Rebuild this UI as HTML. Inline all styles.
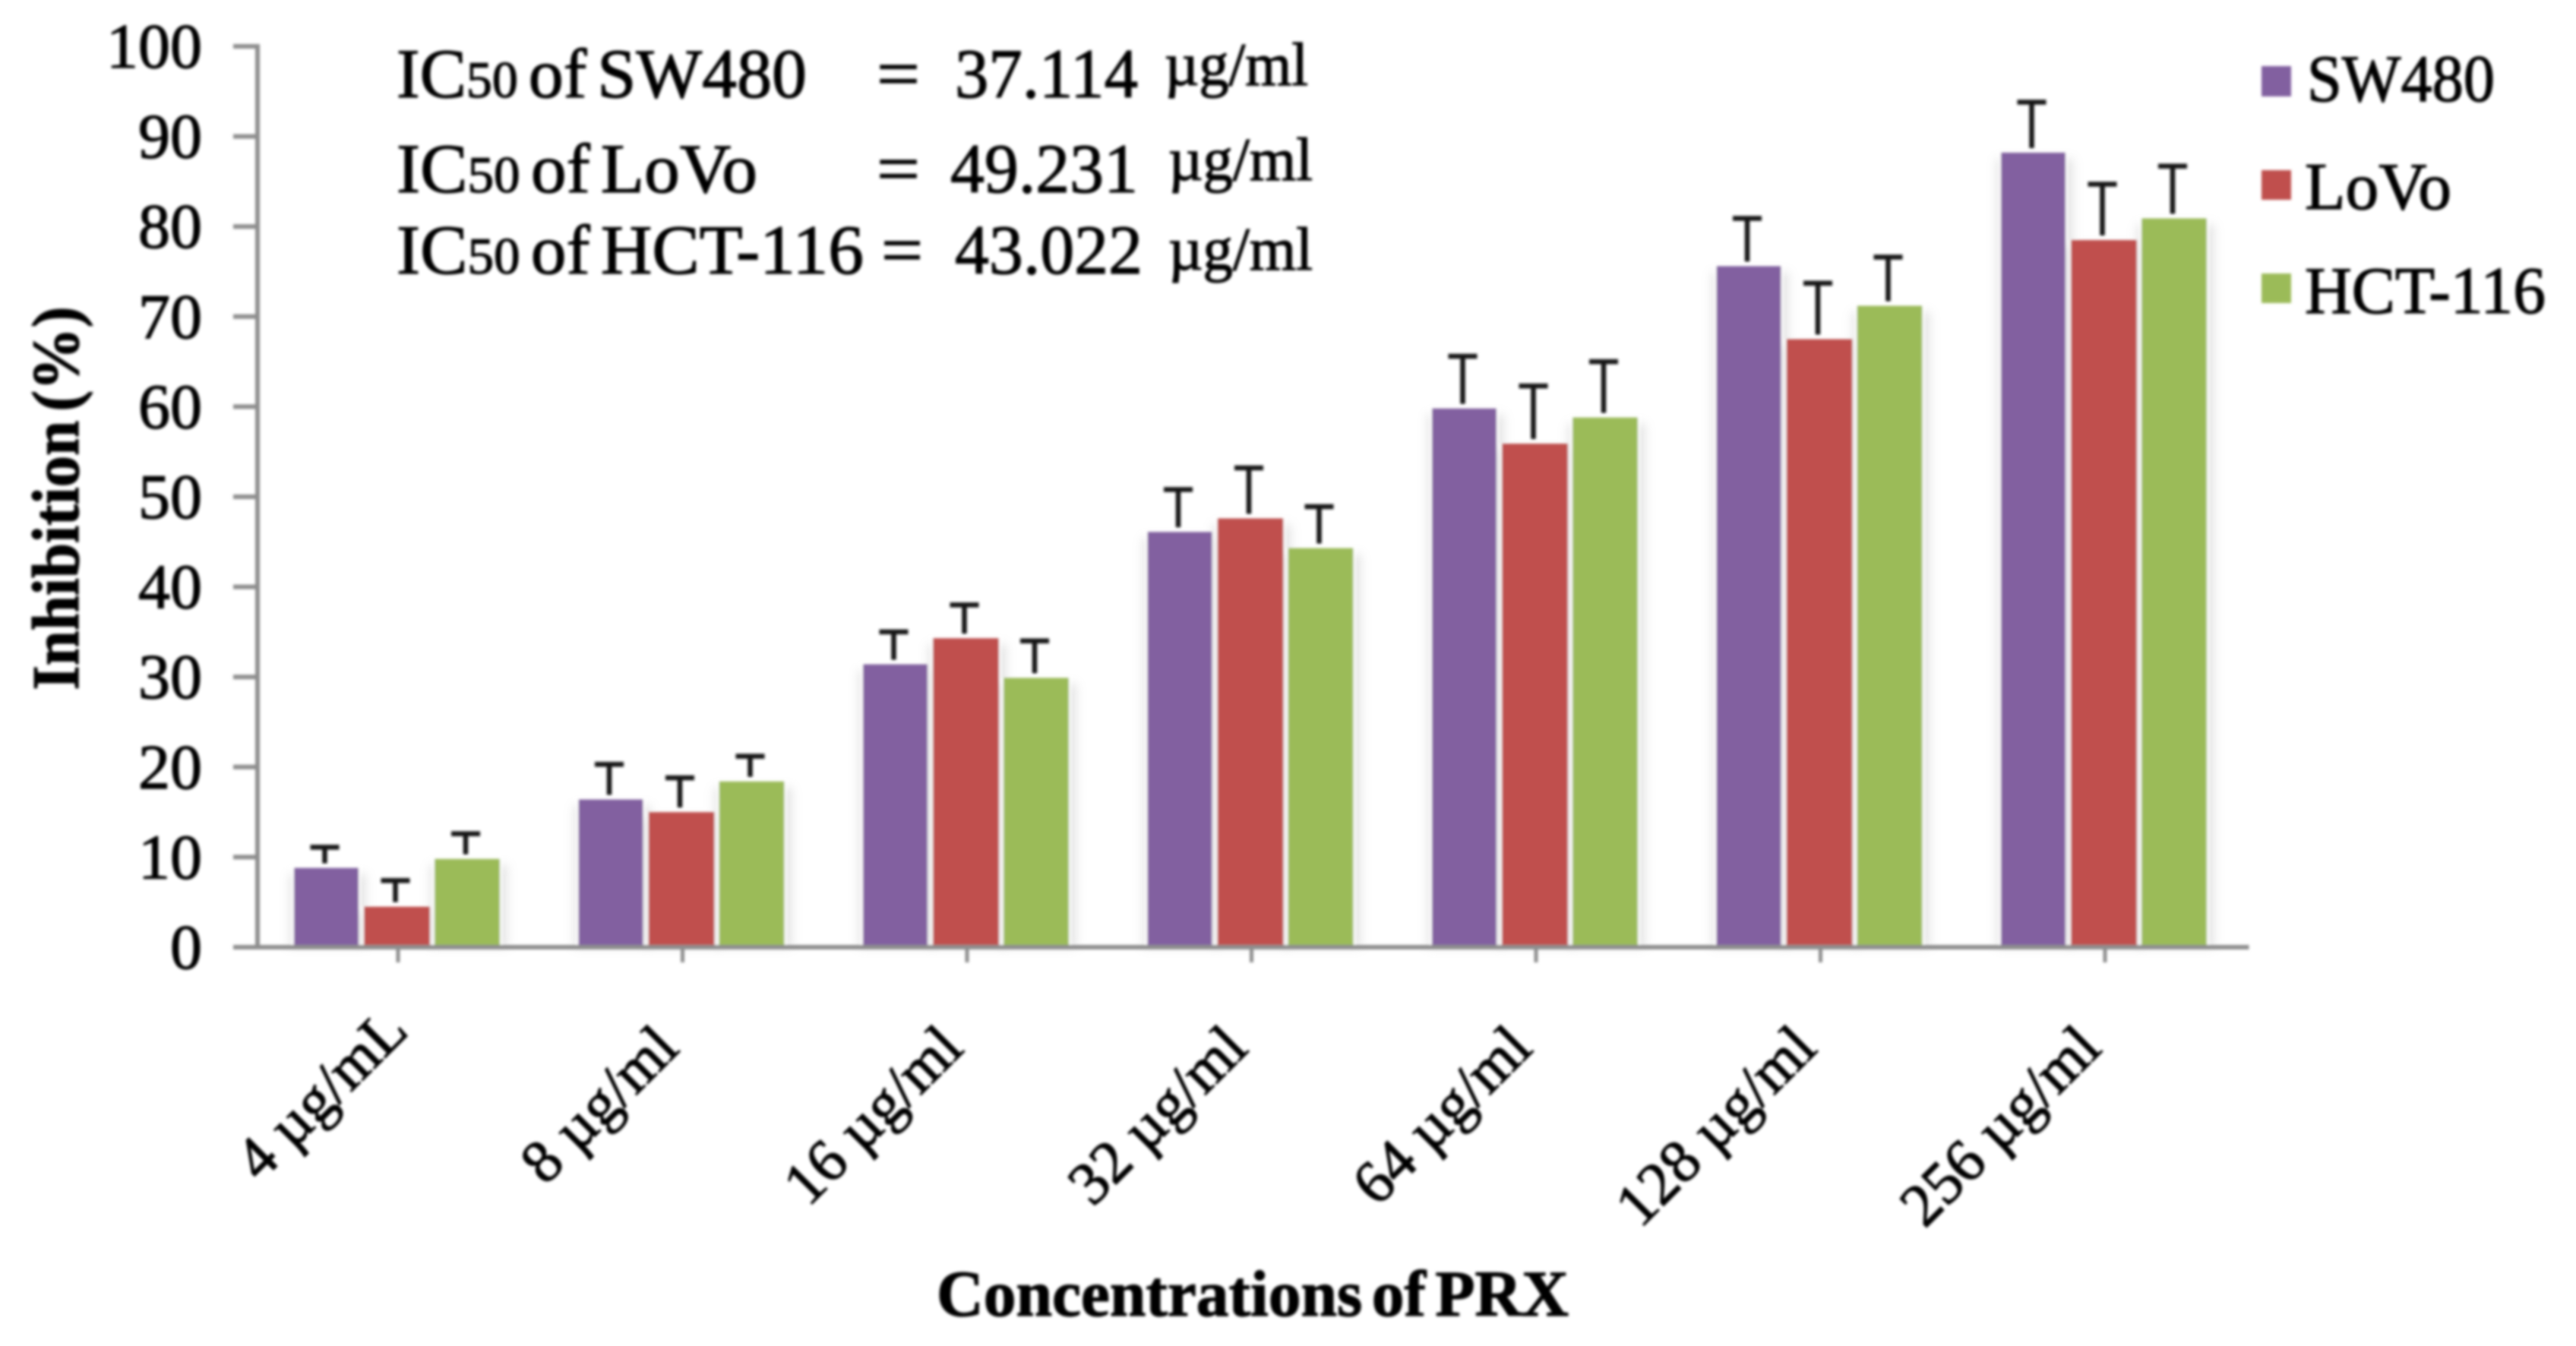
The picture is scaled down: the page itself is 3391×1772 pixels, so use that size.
<!DOCTYPE html>
<html lang="en">
<head>
<meta charset="utf-8">
<title>Inhibition by concentration of PRX</title>
<style>
html,body{margin:0;padding:0;background:#fff;width:3391px;height:1772px;overflow:hidden}
svg{display:block}
text{font-family:"Liberation Serif",serif;fill:#050505;stroke:#050505;stroke-width:1.3px}
.bold{font-weight:700}
.tight{word-spacing:-9px}
</style>
</head>
<body>
<svg id="chart" width="3391" height="1772" viewBox="0 0 3391 1772" xmlns="http://www.w3.org/2000/svg">
<defs>
<filter id="soft" x="-2%" y="-2%" width="104%" height="104%"><feGaussianBlur stdDeviation="1.9"/></filter>
<filter id="shade" x="-40%" y="-10%" width="180%" height="120%"><feGaussianBlur stdDeviation="6"/></filter>
</defs>
<rect width="3391" height="1772" fill="#fff"/>
<g id="root" filter="url(#soft)">
<g id="shadows"></g>
<g id="bars"></g>
<g id="errors"></g>
<g id="axes"></g>
<g id="ylabels" font-size="84"></g>
<g id="xlabels" font-size="80"></g>

<text class="bold tight" font-size="88" text-anchor="middle" textLength="505" lengthAdjust="spacingAndGlyphs" transform="translate(103 656) rotate(-90)">Inhibition (%)</text>
<text class="bold tight" font-size="86" x="1233" y="1732" textLength="832" lengthAdjust="spacingAndGlyphs">Concentrations of PRX</text>

<g font-size="92">
<text class="tight" x="522" y="128" textLength="540" lengthAdjust="spacingAndGlyphs">IC<tspan font-size="68">50</tspan> of SW480</text>
<text x="1154" y="128" textLength="57" lengthAdjust="spacingAndGlyphs">=</text>
<text x="1257" y="128" textLength="241" lengthAdjust="spacingAndGlyphs">37.114</text>
<text font-size="80" x="1533" y="112" textLength="189" lengthAdjust="spacingAndGlyphs">µg/ml</text>
<text class="tight" x="522" y="253" textLength="475" lengthAdjust="spacingAndGlyphs">IC<tspan font-size="68">50</tspan> of LoVo</text>
<text x="1154" y="253" textLength="57" lengthAdjust="spacingAndGlyphs">=</text>
<text x="1251" y="253" textLength="247" lengthAdjust="spacingAndGlyphs">49.231</text>
<text font-size="80" x="1538" y="237" textLength="190" lengthAdjust="spacingAndGlyphs">µg/ml</text>
<text class="tight" x="522" y="360" textLength="615" lengthAdjust="spacingAndGlyphs">IC<tspan font-size="68">50</tspan> of HCT-116</text>
<text x="1160" y="360" textLength="55" lengthAdjust="spacingAndGlyphs">=</text>
<text x="1257" y="360" textLength="247" lengthAdjust="spacingAndGlyphs">43.022</text>
<text font-size="80" x="1538" y="355" textLength="190" lengthAdjust="spacingAndGlyphs">µg/ml</text>
</g>

<g font-size="88">
<g>
<rect x="2977" y="87" width="39" height="40" fill="#8261a0"/>
<text x="3037" y="133" textLength="247" lengthAdjust="spacingAndGlyphs">SW480</text>
</g>
<g>
<rect x="2977" y="224" width="39" height="39" fill="#c0504d"/>
<text x="3034" y="275" textLength="193" lengthAdjust="spacingAndGlyphs">LoVo</text>
</g>
<g>
<rect x="2977" y="360" width="39" height="39" fill="#9bbb59"/>
<text x="3034" y="412" textLength="317" lengthAdjust="spacingAndGlyphs">HCT-116</text>
</g>
</g>
</g>
</svg>
<script>
const categories = ["4 µg/mL", "8 µg/ml", "16 µg/ml", "32 µg/ml", "64 µg/ml", "128 µg/ml", "256 µg/ml"];
const yTicks = [0, 10, 20, 30, 40, 50, 60, 70, 80, 90, 100];
const sw480 = [8.8, 16.4, 31.4, 46.1, 59.8, 75.6, 88.2];
const lovo = [4.5, 15, 34.3, 47.6, 55.9, 67.5, 78.5];
const hct116 = [9.8, 18.4, 29.9, 44.3, 58.8, 71.2, 80.9];
const sw480Err = [2.3, 3.9, 3.6, 4.7, 5.8, 5.3, 5.6];
const lovoErr = [2.9, 3.8, 3.7, 5.6, 6.4, 6.2, 6.2];
const hct116Err = [2.8, 2.8, 4.1, 4.6, 6.2, 5.4, 5.8];

const NS = 'http://www.w3.org/2000/svg';
const Y0 = 1247, PX_PER_UNIT = 11.86;
const X0 = 339, BAND = 374.5;
const AXIS = '#8e8e8e';
const y = v => Y0 - v * PX_PER_UNIT;
const xCenter = i => X0 + 185 + BAND * i;

function make(tag, attrs, parent) {
  const el = document.createElementNS(NS, tag);
  for (const k in attrs) el.setAttribute(k, attrs[k]);
  parent.appendChild(el);
  return el;
}

const seriesList = [
  { key: 'sw480', vals: sw480, errs: sw480Err, color: '#8261a0', off: -137, w: 85 },
  { key: 'lovo', vals: lovo, errs: lovoErr, color: '#c0504d', off: -45, w: 87 },
  { key: 'hct116', vals: hct116, errs: hct116Err, color: '#9bbb59', off: 48, w: 86 }
];

const shadows = document.getElementById('shadows');
const bars = document.getElementById('bars');
const errors = document.getElementById('errors');
const axes = document.getElementById('axes');
const ylabels = document.getElementById('ylabels');
const xlabels = document.getElementById('xlabels');

seriesList.forEach(s => {
  s.vals.forEach((v, i) => {
    const left = xCenter(i) + s.off;
    const top = y(v);
    const shade = make('rect', { x: left - 6, y: top + 8, width: s.w + 16, height: Y0 - top - 8, fill: '#c4c4c4', filter: 'url(#shade)', opacity: .45 }, shadows);
    
    

    const halo = make('rect', { x: left - 3, y: top, width: s.w + 6, height: Y0 - top, fill: '#fff', opacity: .8 }, shadows);
    
    

    const bar = make('rect', { x: left, y: top, width: s.w, height: Y0 - top, fill: s.color }, bars);
    
    

    const mid = left + s.w / 2 - 2;
    const errTop = y(v + s.errs[i]);
    const stem = make('line', { x1: mid, x2: mid, y1: top - 6, y2: errTop, stroke: '#161616', 'stroke-width': 6.5 }, errors);
    
    

    const cap = make('line', { x1: mid - 19, x2: mid + 19, y1: errTop, y2: errTop, stroke: '#161616', 'stroke-width': 6.5 }, errors);
    
    
  });
});

const yAxis = make('line', { x1: X0, x2: X0, y1: y(100) - 3, y2: Y0 + 3, stroke: AXIS, 'stroke-width': 6 }, axes);



const xAxis = make('line', { x1: 307, x2: X0 + BAND * categories.length, y1: Y0, y2: Y0, stroke: AXIS, 'stroke-width': 6 }, axes);



yTicks.forEach(t => {
  const tick = make('line', { x1: 307, x2: X0, y1: y(t), y2: y(t), stroke: AXIS, 'stroke-width': 6 }, axes);
  
  

  const label = make('text', { x: 266, y: y(t) + 28, 'text-anchor': 'end' }, ylabels);
  
  
  label.textContent = t;
});

categories.forEach((c, i) => {
  const tick = make('line', { x1: xCenter(i), x2: xCenter(i), y1: Y0, y2: Y0 + 20, stroke: AXIS, 'stroke-width': 5 }, axes);
  
  

  const ax = xCenter(i) + (i === 0 ? 16 : -2);
  const ay = i === 0 ? 1360 : 1383;
  const label = make('text', { 'text-anchor': 'end', transform: 'translate(' + ax + ' ' + ay + ') rotate(-45)' }, xlabels);
  
  
  label.textContent = c;
});
</script>
</body>
</html>
